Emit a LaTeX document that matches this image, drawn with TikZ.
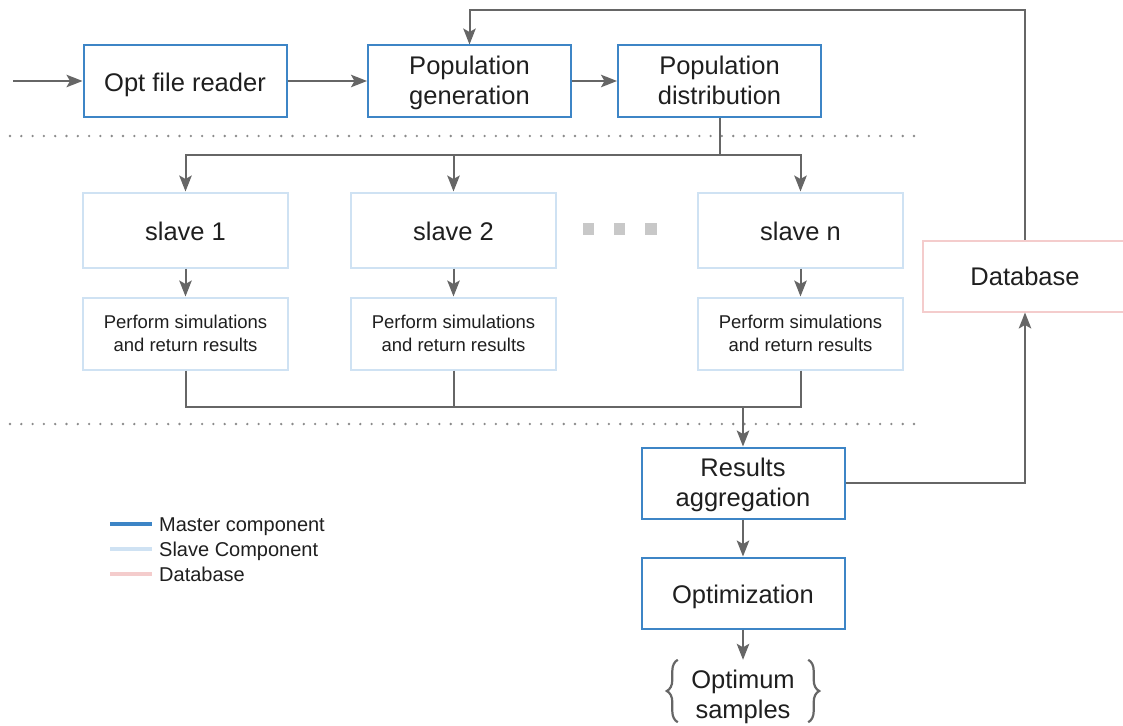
\documentclass[tikz,border=0pt]{standalone}
\usepackage{fontspec}
\setmainfont{Liberation Sans}
\usetikzlibrary{arrows.meta,decorations.pathreplacing,calc}
\definecolor{master}{HTML}{3D85C6}
\definecolor{slave}{HTML}{CFE2F3}
\definecolor{dbcol}{HTML}{F4CCCC}
\definecolor{wire}{HTML}{666666}
\definecolor{ink}{HTML}{1F1F1F}
\definecolor{dotgray}{HTML}{C8C8C8}
\definecolor{sepgray}{HTML}{8A8A8A}

\begin{document}
\begin{tikzpicture}[x=1pt,y=-1pt,
  box/.style={draw, line width=2pt, minimum width=203pt, minimum height=71pt, inner sep=0pt},
  masterbox/.style={box, draw=master},
  slavebox/.style={box, draw=slave, minimum width=205pt},
  bigtext/.style={align=center, text=ink, inner sep=0pt, yshift=-4pt,
    font=\fontsize{25.5}{30}\selectfont,
    execute at begin node=\strut, execute at end node=\strut},
  smalltext/.style={align=center, text=ink, inner sep=0pt, yshift=-3pt,
    font=\fontsize{18.5}{23}\selectfont,
    execute at begin node=\strut, execute at end node=\strut},
  arr/.style={draw=wire, line width=2pt, -{Stealth[length=16pt,width=12.5pt,inset=3.5pt]}},
  wireline/.style={draw=wire, line width=2pt},
  sep/.style={draw=sepgray, line width=2.6pt, line cap=round, dash pattern=on 0pt off 11.3pt},
  legendtext/.style={anchor=base west, inner sep=0pt, text=ink, font=\fontsize{20}{22}\selectfont},
  legendbar/.style={line width=4.5pt},
  gapdot/.style={fill=dotgray, minimum size=11.5pt, inner sep=0pt},
  curly/.style={draw=wire, line width=2.2pt, decorate, decoration={brace, amplitude=11pt}},
]
\useasboundingbox (0,0) rectangle (1123,725);

% master stage
\coordinate (entry) at (13,81);
\node[masterbox, label={[bigtext]center:Opt file reader}] (reader) at (185,81) {};
\node[masterbox, label={[bigtext]center:{Population\\generation}}] (pgen) at (469.5,81) {};
\node[masterbox, label={[bigtext]center:{Population\\distribution}}] (pdist) at (719.5,81) {};

% tier separators
\draw[sep] (10,136) -- (922,136);
\draw[sep] (10,424) -- (922,424);

% slaves
\node[slavebox, minimum height=75pt, label={[bigtext]center:slave 1}] (s1) at (185.5,230) {};
\node[slavebox, minimum height=75pt, label={[bigtext]center:slave 2}] (s2) at (453.5,230) {};
\node[slavebox, minimum height=75pt, label={[bigtext]center:slave n}] (sn) at (800.5,230) {};
\node[slavebox, minimum height=72pt, label={[smalltext]center:{Perform simulations\\and return results}}] (p1) at (185.5,333.5) {};
\node[slavebox, minimum height=72pt, label={[smalltext]center:{Perform simulations\\and return results}}] (p2) at (453.5,333.5) {};
\node[slavebox, minimum height=72pt, label={[smalltext]center:{Perform simulations\\and return results}}] (pn) at (800.5,333.5) {};
\node[gapdot] (g1) at (588.5,229) {};
\node[gapdot] (g2) at (619.5,229) {};
\node[gapdot] (g3) at (651,229) {};

% aggregation, database and optimisation
\node[masterbox, label={[bigtext]center:{Results\\aggregation}}] (agg) at (743,483) {};
\node[masterbox, label={[bigtext]center:Optimization}] (optim) at (743,593) {};
\node[box, draw=dbcol, minimum width=204pt, label={[bigtext, yshift=0.5pt]center:Database}] (db) at (1025,276) {};
\node[inner sep=0pt, minimum width=130pt, minimum height=62pt,
  label={[bigtext, yshift=-3.5pt]center:{Optimum\\samples}}] (samples) at (743,691) {};
\draw[curly] (samples.south west) -- (samples.north west);
\draw[curly] (samples.north east) -- (samples.south east);

% connectors
\coordinate (split) at (719.5,155);
\coordinate (merge) at (743,407);
\coordinate (fbtop) at (1025,10);
\draw[arr] (entry) -- (reader);
\draw[arr] (reader) -- (pgen);
\draw[arr] (pgen) -- (pdist);
\draw[wireline] (pdist.south) -- (split);
\draw[arr] (split) -| (s1.north);
\draw[arr] (split) -| (s2.north);
\draw[arr] (split) -| (sn.north);
\draw[arr] (s1) -- (p1);
\draw[arr] (s2) -- (p2);
\draw[arr] (sn) -- (pn);
\draw[wireline] (p1.south) |- (merge);
\draw[wireline] (p2.south) |- (merge);
\draw[wireline] (pn.south) |- (merge);
\draw[arr] (merge) -- (agg.north);
\draw[arr] (agg.east) -| (db.south);
\draw[arr] (db.north) -- (fbtop) -| (pgen.north);
\draw[arr] (agg) -- (optim);
\draw[arr] (optim) -- (samples);

% legend
\node[legendtext] (lm) at (159,531) {Master component};
\node[legendtext] (ls) at (159,556) {Slave Component};
\node[legendtext] (ld) at (159,581) {Database};
\draw[legendbar, master] ($(lm.base west)+(-49,-7)$) -- ($(lm.base west)+(-7,-7)$);
\draw[legendbar, slave] ($(ls.base west)+(-49,-7)$) -- ($(ls.base west)+(-7,-7)$);
\draw[legendbar, dbcol] ($(ld.base west)+(-49,-7)$) -- ($(ld.base west)+(-7,-7)$);
\end{tikzpicture}
\end{document}
